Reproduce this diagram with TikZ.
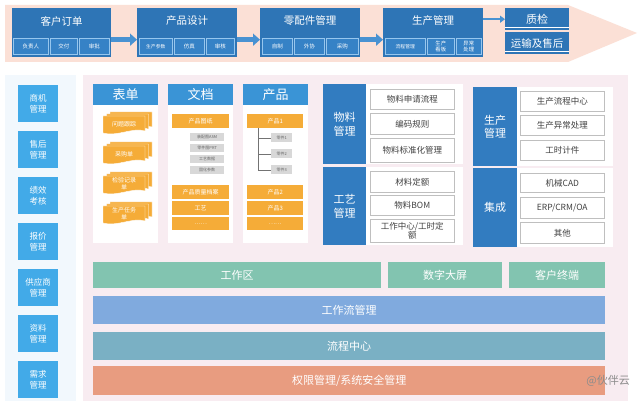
\documentclass[tikz,border=0pt]{standalone}
\usepackage{fontspec}
\setmainfont{Noto Sans CJK SC}
\usepackage{tikz}
\usetikzlibrary{arrows.meta,positioning,calc}

\definecolor{bandpeach}{RGB}{251,224,214}
\definecolor{topblue}{RGB}{46,117,182}
\definecolor{subblue}{RGB}{54,130,198}
\definecolor{subline}{RGB}{150,198,238}
\definecolor{arrowblue}{RGB}{72,146,210}
\definecolor{sideblue}{RGB}{66,170,232}
\definecolor{sidebg}{RGB}{242,248,253}
\definecolor{panelpink}{RGB}{248,236,241}
\definecolor{headblue}{RGB}{58,148,214}
\definecolor{formorange}{RGB}{245,172,56}
\definecolor{taggray}{RGB}{216,216,216}
\definecolor{labelblue}{RGB}{50,124,192}
\definecolor{workgreen}{RGB}{130,196,176}
\definecolor{flowblue}{RGB}{128,170,222}
\definecolor{centerteal}{RGB}{122,176,196}
\definecolor{rightsalmon}{RGB}{232,156,128}

\newcommand{\fsz}[1]{\fontsize{#1}{\fpeval{#1*1.22}}\selectfont}

% stacked paper sheets with a wavy lower edge
\newcommand{\formstack}[4]{
  \foreach \d in {2,1,0}{
    \begin{scope}[shift={(#1+3.5*\d,#2+4-2*\d)}]
      \fill[formorange, draw=white, line width=0.4pt] (0,0) -- (42,0) -- (42,15)
        .. controls (30,11) and (14,21) .. (0,17) -- cycle;
    \end{scope}
  }
  \node[formtext] (#3) at (#1+21,#2+12) {#4};
}

\begin{document}
\begin{tikzpicture}[x=1pt,y=-1pt,
    every node/.style={inner sep=0pt, align=center},
    topbox/.style={fill=topblue, anchor=north west},
    toptitle/.style={text=white, font=\fsz{10.5}},
    topsub/.style={fill=subblue, draw=subline, line width=0.5pt, anchor=north west,
      minimum height=16pt, text=white, font=\fsz{5.5}},
    bigarrow/.style={arrowblue, line width=5pt, -{Triangle[length=7pt,width=12pt]}},
    sidebox/.style={fill=sideblue, anchor=north west, minimum width=40pt,
      minimum height=37pt, text=white, font=\fsz{8.5}},
    column/.style={fill=white, anchor=north west, minimum width=65pt, minimum height=159pt},
    colhead/.style={fill=headblue, anchor=north west, minimum width=65pt,
      minimum height=21pt, text=white, font=\fsz{13}},
    formtext/.style={text=white, font=\fsz{6}, text width=40pt},
    orangebar/.style={fill=formorange, anchor=north west, minimum width=57pt,
      minimum height=14pt, text=white, font=\fsz{6}},
    tagbox/.style={fill=taggray, anchor=west, minimum height=8pt, text=black!60, font=\fsz{4}},
    groupbox/.style={fill=labelblue, anchor=north west, minimum width=43pt,
      text=white, font=\fsz{11}},
    whitepanel/.style={fill=white, anchor=north west},
    itembox/.style={fill=white, draw=black!25, line width=0.6pt, anchor=north west,
      minimum width=84pt, text=black!75, font=\fsz{8.5}},
    layerbar/.style={anchor=north west, text=white, font=\fsz{11}}]

\useasboundingbox[fill=white] (0,0) rectangle (640,403);

% value chain along the top
\fill[bandpeach] (5,5) -- (568,5) -- (637,33) -- (568,62) -- (5,62) -- cycle;

\node[topbox, minimum width=99pt, minimum height=49pt] (order) at (12,8) {};
\node[toptitle] (ordertitle) at (61.5,21) {客户订单};
\node[topsub, minimum width=35pt] (order1) at (13,38) {负责人};
\node[topsub, minimum width=27pt] (order2) at (50,38) {交付};
\node[topsub, minimum width=30pt] (order3) at (79,38) {审批};

\node[topbox, minimum width=100pt, minimum height=49pt] (design) at (137,8) {};
\node[toptitle] (designtitle) at (187,21) {产品设计};
\node[topsub, minimum width=33pt, font=\fsz{4.8}] (design1) at (139,38) {生产参数};
\node[topsub, minimum width=30pt] (design2) at (174,38) {仿真};
\node[topsub, minimum width=28pt] (design3) at (206,38) {审核};

\node[topbox, minimum width=100pt, minimum height=49pt] (parts) at (260,8) {};
\node[toptitle] (partstitle) at (310,21) {零配件管理};
\node[topsub, minimum width=30pt] (parts1) at (262,38) {自制};
\node[topsub, minimum width=30pt] (parts2) at (294,38) {外协};
\node[topsub, minimum width=32pt] (parts3) at (326,38) {采购};

\node[topbox, minimum width=100pt, minimum height=49pt] (prod) at (383,8) {};
\node[toptitle] (prodtitle) at (433,21) {生产管理};
\node[topsub, minimum width=40pt, font=\fsz{4.8}] (prod1) at (385,38) {流程管理};
\node[topsub, minimum width=27pt, font=\fsz{5.3}] (prod2) at (427,38) {生产\\看板};
\node[topsub, minimum width=25pt, font=\fsz{5.3}] (prod3) at (456,38) {异常\\处理};

\node[topbox, minimum width=64pt, minimum height=22pt, text=white, font=\fsz{11}] (qc) at (505,8) {质检};
\node[topbox, minimum width=64pt, minimum height=22pt, text=white, font=\fsz{10.5}] (ship) at (505,32) {运输及售后};
\draw[white, line width=1pt] ([yshift=3pt]qc.south west) -- ([yshift=3pt]qc.south east);
\draw[white, line width=1pt] ([yshift=3pt]ship.south west) -- ([yshift=3pt]ship.south east);

\draw[bigarrow] ([yshift=-7pt]order.east) -- ([yshift=-7pt]design.west);
\draw[bigarrow] ([yshift=-7pt]design.east) -- ([yshift=-7pt]parts.west);
\draw[bigarrow] ([yshift=-7pt]parts.east) -- ([yshift=-7pt]prod.west);
\draw[arrowblue, line width=2.5pt, -{Triangle[length=5pt,width=7pt]}] (prod.east |- qc.west) -- (qc.west);

% side modules
\fill[sidebg] (5,75) rectangle (76,401);
\foreach \i/\ypos/\txt in {1/85/商机\\管理, 2/131/售后\\管理, 3/177/绩效\\考核, 4/223/报价\\管理,
    5/269/供应商\\管理, 6/315/资料\\管理, 7/361/需求\\管理}{
  \node[sidebox] (side\i) at (18,\ypos) {\txt};
}

% main panel
\fill[panelpink] (83,75) rectangle (628,401);

\node[column] (formcol) at (93,84) {};
\node[colhead] (formhead) at (93,84) {表单};
\node[column] (doccol) at (168,84) {};
\node[colhead] (dochead) at (168,84) {文档};
\node[column] (itemcol) at (243,84) {};
\node[colhead] (itemhead) at (243,84) {产品};

\formstack{103}{112}{form1}{问题跟踪}
\formstack{103}{142}{form2}{采购单}
\formstack{103}{172}{form3}{检验记录\\单}
\formstack{103}{202}{form4}{生产任务\\单}

\node[orangebar] (drawing) at (172,114) {产品图纸};
\node[tagbox, minimum width=34pt] (tag1) at (190,137) {装配图ASM};
\node[tagbox, minimum width=34pt] (tag2) at (190,148) {零件图PRT};
\node[tagbox, minimum width=34pt] (tag3) at (190,159) {工艺数据};
\node[tagbox, minimum width=34pt] (tag4) at (190,170) {固化参数};
\node[orangebar] (quality) at (172,185) {产品质量档案};
\node[orangebar] (craft) at (172,201) {工艺};
\node[orangebar, minimum height=13pt] (docmore) at (172,217) {……};

\node[orangebar, minimum width=56pt] (p1) at (247,114) {产品1};
\node[tagbox, minimum width=21pt, minimum height=9pt] (part1) at (271,138) {零件1};
\node[tagbox, minimum width=21pt, minimum height=9pt] (part2) at (271,154) {零件2};
\node[tagbox, minimum width=21pt, minimum height=9pt] (part3) at (271,170) {零件3};
\coordinate (treetop) at ([xshift=11pt]p1.south west);
\draw[black!55, line width=0.6pt] (treetop) |- (part3.west);
\draw[black!55, line width=0.6pt] (treetop |- part1.west) -- (part1.west);
\draw[black!55, line width=0.6pt] (treetop |- part2.west) -- (part2.west);
\node[orangebar, minimum width=56pt] (p2) at (247,185) {产品2};
\node[orangebar, minimum width=56pt] (p3) at (247,201) {产品3};
\node[orangebar, minimum width=56pt, minimum height=13pt] (itemmore) at (247,217) {……};

% material and process
\node[whitepanel, minimum width=97pt, minimum height=80pt] (matpanel) at (366,84) {};
\node[whitepanel, minimum width=97pt, minimum height=78pt] (techpanel) at (366,167) {};
\node[groupbox, minimum height=80pt] (material) at (323,84) {物料\\管理};
\node[groupbox, minimum height=78pt] (tech) at (323,167) {工艺\\管理};
\node[itembox, minimum height=20pt] (mat1) at (370,89) {物料申请流程};
\node[itembox, minimum height=21pt] (mat2) at (370,113) {编码规则};
\node[itembox, minimum height=24pt] (mat3) at (370,138) {物料标准化管理};
\node[itembox, minimum height=21pt] (tech1) at (370,171) {材料定额};
\node[itembox, minimum height=20pt] (tech2) at (370,195) {物料BOM};
\node[itembox, minimum height=23pt, font=\fontsize{8.5}{9}\selectfont] (tech3) at (370,219) {工作中心/工时定\\额};

% production and integration
\node[whitepanel, minimum width=96pt, minimum height=79pt] (prodpanel) at (517,87) {};
\node[whitepanel, minimum width=96pt, minimum height=79pt] (intpanel) at (517,168) {};
\node[groupbox, minimum width=44pt, minimum height=79pt] (prodmgmt) at (473,87) {生产\\管理};
\node[groupbox, minimum width=44pt, minimum height=79pt] (integ) at (473,168) {集成};
\node[itembox, minimum height=20pt] (pm1) at (520,91) {生产流程中心};
\node[itembox, minimum height=20pt] (pm2) at (520,115) {生产异常处理};
\node[itembox, minimum height=20pt] (pm3) at (520,140) {工时计件};
\node[itembox, minimum height=19pt] (int1) at (520,173) {机械CAD};
\node[itembox, minimum height=21pt] (int2) at (520,197) {ERP/CRM/OA};
\node[itembox, minimum height=21pt] (int3) at (520,222) {其他};

% platform layers
\node[layerbar, fill=workgreen, minimum width=288pt, minimum height=26pt] (workarea) at (93,262) {工作区};
\node[layerbar, fill=workgreen, minimum width=114pt, minimum height=26pt] (bigscreen) at (388,262) {数字大屏};
\node[layerbar, fill=workgreen, minimum width=96pt, minimum height=26pt] (terminal) at (509,262) {客户终端};
\node[layerbar, fill=flowblue, minimum width=512pt, minimum height=28pt] (workflow) at (93,296) {工作流管理};
\node[layerbar, fill=centerteal, minimum width=512pt, minimum height=28pt] (flowcenter) at (93,332) {流程中心};
\node[layerbar, fill=rightsalmon, minimum width=512pt, minimum height=29pt] (security) at (93,366) {权限管理/系统安全管理};

\node[anchor=east, text=black!45, font=\fsz{11}] (mark) at (630,381) {@伙伴云};

\end{tikzpicture}
\end{document}
